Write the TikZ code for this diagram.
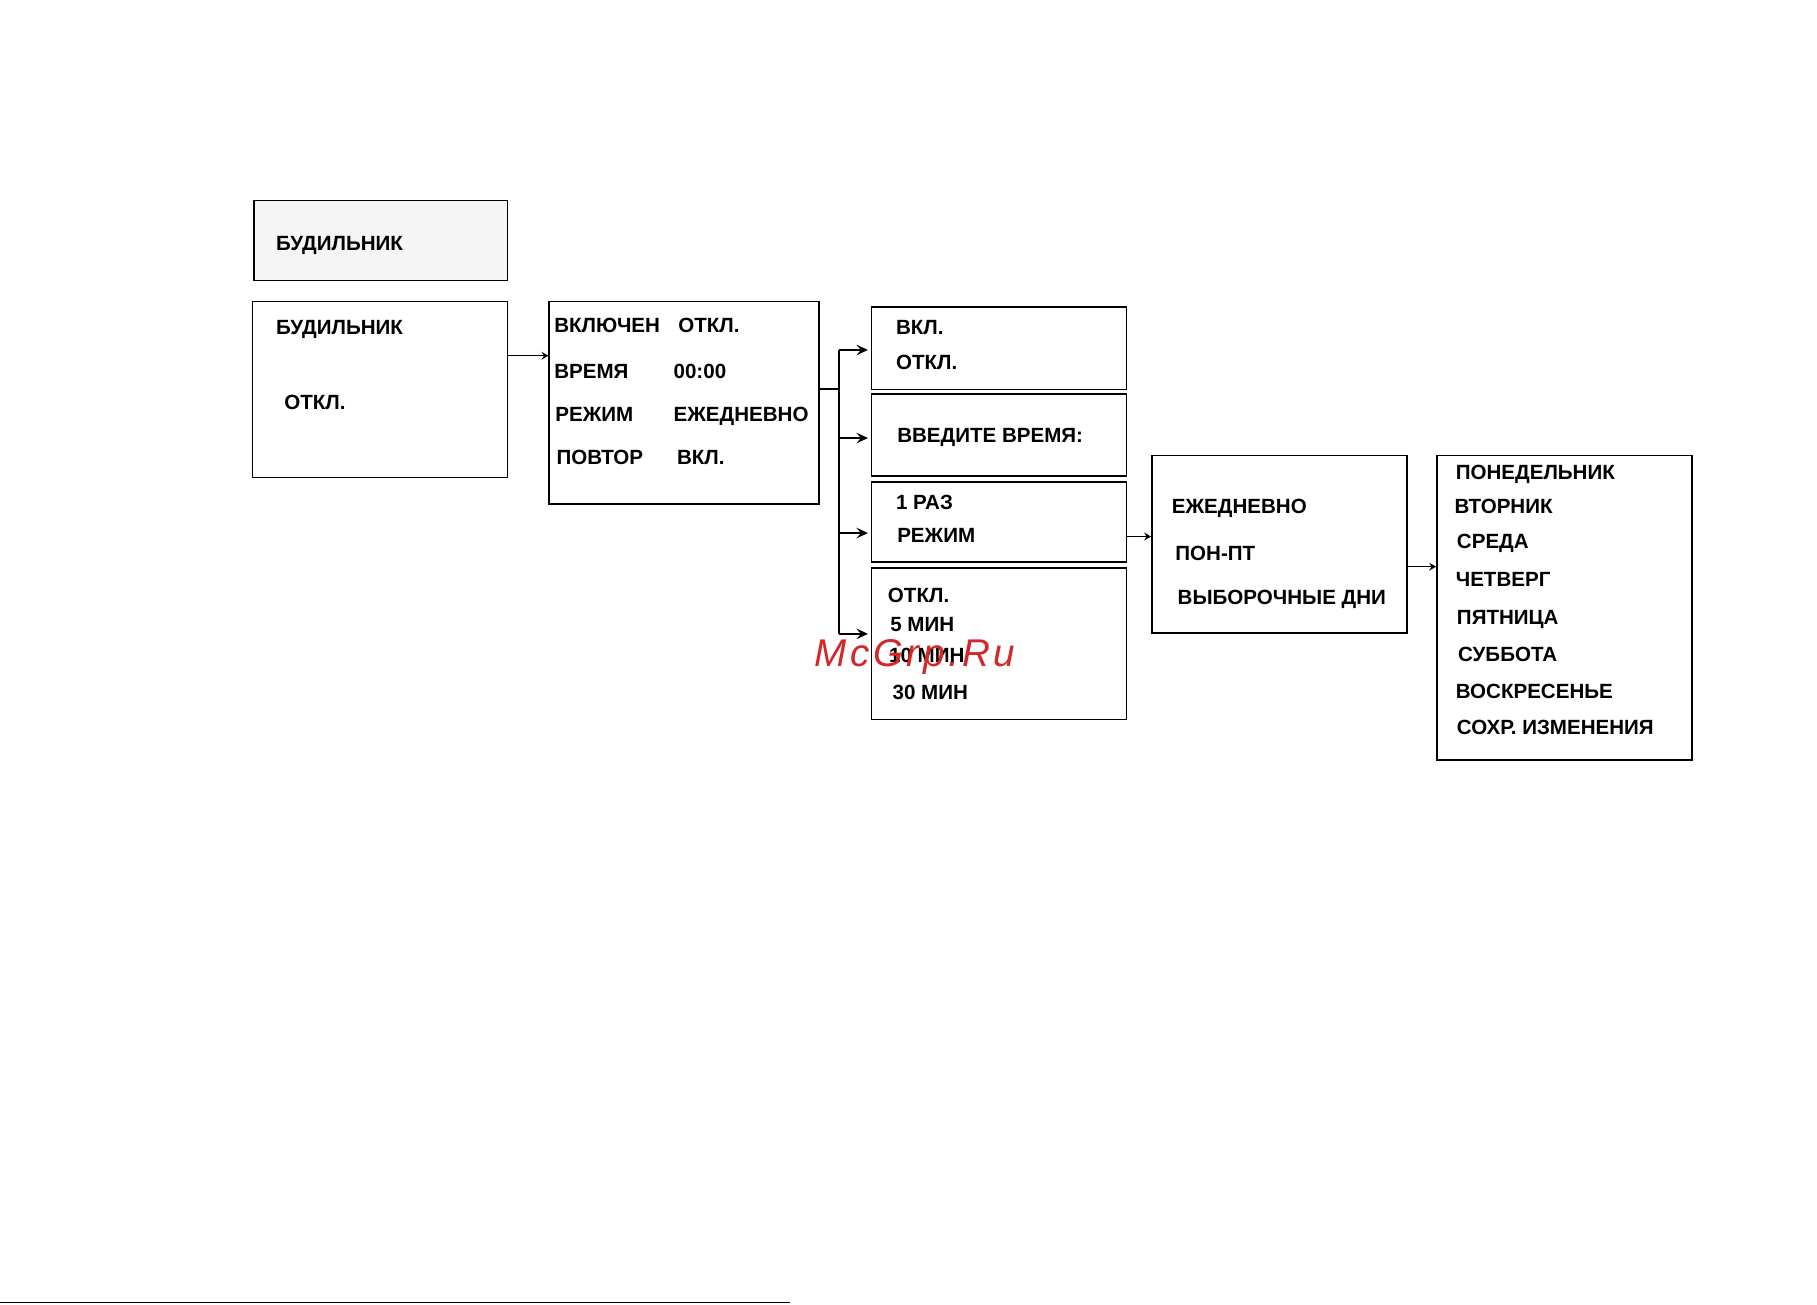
\documentclass[tikz,border=0pt]{standalone}
\usepackage{fontspec}
\setmainfont{Liberation Sans}
\newfontfamily\wmfont[LetterSpace=9]{Liberation Sans}
\usetikzlibrary{fit,arrows.meta}
\definecolor{boxgray}{RGB}{245,245,245}
\definecolor{wmred}{RGB}{212,40,40}
\begin{document}
\begin{tikzpicture}[x=0.023176cm,y=-0.023176cm,
  box/.style={draw=black,line width=0.9pt,inner sep=0pt,fill=white},
  lbl/.style={anchor=base west,inner sep=0pt,font=\fontsize{11.7}{14}\selectfont\bfseries},
  thinarr/.style={line width=0.7pt,-{Stealth[length=4pt,width=4.5pt,inset=1.5pt]}},
  busarr/.style={line width=1.1pt,-{Stealth[length=6.5pt,width=6pt,inset=2.5pt]}},
  bus/.style={line width=1.1pt}]
\useasboundingbox (0,0) rectangle (1568,1126);
% boxes
\node[box,fill=boxgray,fit={(219,173) (438,242)}] (A) {};
\node[box,fit={(218,260) (438,412)}] (B) {};
\node[box,fit={(474,260) (707,435)}] (C) {};
\node[box,fit={(752,265) (972,336)}] (D1) {};
\node[box,fit={(752,340) (972,411)}] (D2) {};
\node[box,fit={(752,416) (972,485)}] (D3) {};
\node[box,fit={(752,490) (972,621)}] (D4) {};
\node[box,fit={(994,393) (1214,546)}] (E) {};
\node[box,fit={(1240,393) (1460,656)}] (F) {};
% texts
\node[lbl] (a1) at (238,216) {БУДИЛЬНИК};
\node[lbl] (b1) at (238,289) {БУДИЛЬНИК};
\node[lbl] (b2) at (245,353) {ОТКЛ.};
\node[lbl] (c1) at (478,287) {ВКЛЮЧЕН};
\node[lbl] (c2) at (585,287) {ОТКЛ.};
\node[lbl] (c3) at (478,327) {ВРЕМЯ};
\node[lbl] (c4) at (581,327) {00:00};
\node[lbl] (c5) at (479,364) {РЕЖИМ};
\node[lbl] (c6) at (581,364) {ЕЖЕДНЕВНО};
\node[lbl] (c7) at (480,401) {ПОВТОР};
\node[lbl] (c8) at (584,401) {ВКЛ.};
\node[lbl] (d11) at (773,289) {ВКЛ.};
\node[lbl] (d12) at (773,319) {ОТКЛ.};
\node[lbl] (d21) at (774,382) {ВВЕДИТЕ ВРЕМЯ:};
\node[lbl] (d31) at (773,440) {1 РАЗ};
\node[lbl] (d32) at (774,468) {РЕЖИМ};
\node[lbl] (d41) at (766,520) {ОТКЛ.};
\node[lbl] (d42) at (768,545) {5 МИН};
\node[lbl] (d43) at (767,572) {10 МИН};
\node[lbl] (d44) at (770,604) {30 МИН};
\node[lbl] (e1) at (1011,443) {ЕЖЕДНЕВНО};
\node[lbl] (e2) at (1014,484) {ПОН-ПТ};
\node[lbl] (e3) at (1016,522) {ВЫБОРОЧНЫЕ ДНИ};
\node[lbl] (f1) at (1256,414) {ПОНЕДЕЛЬНИК};
\node[lbl] (f2) at (1255,443) {ВТОРНИК};
\node[lbl] (f3) at (1257,473) {СРЕДА};
\node[lbl] (f4) at (1256,506) {ЧЕТВЕРГ};
\node[lbl] (f5) at (1257,539) {ПЯТНИЦА};
\node[lbl] (f6) at (1258,571) {СУББОТА};
\node[lbl] (f7) at (1256,603) {ВОСКРЕСЕНЬЕ};
\node[lbl] (f8) at (1257,634) {СОХР. ИЗМЕНЕНИЯ};
% connectors
\coordinate (yb) at (0,307);
\draw[thinarr] (B.east|-yb) -- (C.west|-yb);
\coordinate (j0) at (724,336);
\coordinate (j1) at (724,302);
\coordinate (j2) at (724,378);
\coordinate (j3) at (724,460);
\coordinate (j4) at (724,547);
\coordinate (t1) at (749,302);
\coordinate (t2) at (749,378);
\coordinate (t3) at (749,460);
\coordinate (t4) at (749,547);
\draw[bus] (C.east|-j0) -- (j0);
\draw[bus] (j1) -- (j4);
\draw[busarr] (j1) -- (t1);
\draw[busarr] (j2) -- (t2);
\draw[busarr] (j3) -- (t3);
\draw[busarr] (j4) -- (t4);
\coordinate (ye) at (0,463);
\draw[thinarr] (D3.east|-ye) -- (E.west|-ye);
\coordinate (yf) at (0,489);
\draw[thinarr] (E.east|-yf) -- (F.west|-yf);
% watermark
\node[anchor=base west,inner sep=0pt,text=wmred,font=\wmfont\fontsize{22}{25}\selectfont\itshape] (wm) at (703,575) {McGrp.Ru};
% bottom rule
\coordinate (r0) at (0,1124);
\coordinate (r1) at (682,1124);
\draw[line width=1pt] (r0) -- (r1);
\end{tikzpicture}
\end{document}
